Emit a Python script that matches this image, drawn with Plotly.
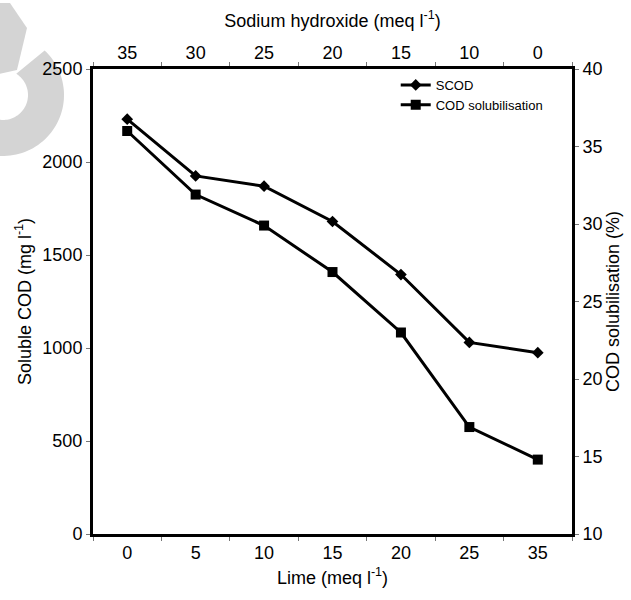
import numpy as np
import plotly.graph_objects as go

# ---- data ----
lime = ["0", "5", "10", "15", "20", "25", "35"]
naoh = ["35", "30", "25", "20", "15", "10", "0"]
scod = [2230, 1925, 1870, 1680, 1395, 1030, 975]
cod_sol = [36.0, 31.9, 29.9, 26.9, 23.0, 16.9, 14.8]

W, H = 631, 600
L, R, T, B = 93, 59, 69, 66
PW, PH = W - L - R, H - T - B
FONT = "Liberation Sans Narrow, Arial Narrow, Liberation Sans, Arial"


def px2paper(x, y):
    return (x - L) / PW, (H - B - y) / PH


def path_from(points):
    pts = [px2paper(x, y) for x, y in points]
    return "M " + " L ".join(f"{a:.4f},{b:.4f}" for a, b in pts) + " Z"


# watermark (decorative logo fragment)
cx, cy, Ro, Ri = 3, 95, 61, 25
ang_o = np.radians(np.linspace(-47, 120, 60))
ang_i = np.radians(np.linspace(120, -58, 60))
ring = [(cx + Ro * np.cos(a), cy + Ro * np.sin(a)) for a in ang_o] + \
       [(cx + Ri * np.cos(a), cy + Ri * np.sin(a)) for a in ang_i]
lobe = [(-5, 3), (10, 3), (27, 28), (17, 70), (-5, 75)]

fig = go.Figure()

fig.add_trace(go.Scatter(
    x=lime, y=scod, name="SCOD", mode="lines+markers",
    line=dict(color="black", width=3),
    marker=dict(symbol="diamond", size=9, color="black"),
    xaxis="x", yaxis="y"))
fig.add_trace(go.Scatter(
    x=lime, y=cod_sol, name="COD solubilisation", mode="lines+markers",
    line=dict(color="black", width=3),
    marker=dict(symbol="square", size=10, color="black"),
    xaxis="x", yaxis="y2"))
# invisible trace to register the top-axis categories
fig.add_trace(go.Scatter(
    x=naoh, y=scod, mode="markers", marker=dict(opacity=0),
    showlegend=False, hoverinfo="skip", xaxis="x2", yaxis="y"))

axis_common = dict(showline=True, linecolor="black", linewidth=3,
                   showgrid=False, zeroline=False, ticks="outside",
                   ticklen=4, tickwidth=1, tickcolor="#777",
                   tickfont=dict(family=FONT, size=18, color="black"))

fig.update_layout(
    width=W, height=H,
    margin=dict(l=L, r=R, t=T, b=B),
    paper_bgcolor="white", plot_bgcolor="white",
    font=dict(family=FONT, size=18, color="black"),
    xaxis=dict(type="category", range=[-0.5, 6.5], tickson="boundaries",
               title=dict(text="Lime (meq l<sup>-1</sup>)", standoff=10,
                          font=dict(family=FONT, size=18)),
               **axis_common),
    xaxis2=dict(type="category", range=[-0.5, 6.5], tickson="boundaries",
                overlaying="x", side="top",
                title=dict(text="Sodium hydroxide (meq l<sup>-1</sup>)", standoff=11,
                           font=dict(family=FONT, size=18)),
                **axis_common),
    yaxis=dict(range=[0, 2500], dtick=500,
               title=dict(text="Soluble COD (mg l<sup>-1</sup>)", standoff=7,
                          font=dict(family=FONT, size=18)),
               **axis_common),
    yaxis2=dict(range=[10, 40], dtick=5, overlaying="y", side="right",
                title=dict(text="COD solubilisation (%)", standoff=0,
                           font=dict(family=FONT, size=18)),
                **axis_common),
    legend=dict(x=0.632, y=0.998, xanchor="left", yanchor="top",
                bgcolor="rgba(0,0,0,0)",
                font=dict(family="Liberation Sans, Arial", size=13, color="black"),
                tracegroupgap=0),
    showlegend=True,
    shapes=[
        dict(type="path", xref="paper", yref="paper", path=path_from(ring),
             fillcolor="#d4d4d4", line=dict(width=0), layer="below"),
        dict(type="path", xref="paper", yref="paper", path=path_from(lobe),
             fillcolor="#d4d4d4", line=dict(width=0), layer="below"),
    ],
)

fig.write_html("out.html")
